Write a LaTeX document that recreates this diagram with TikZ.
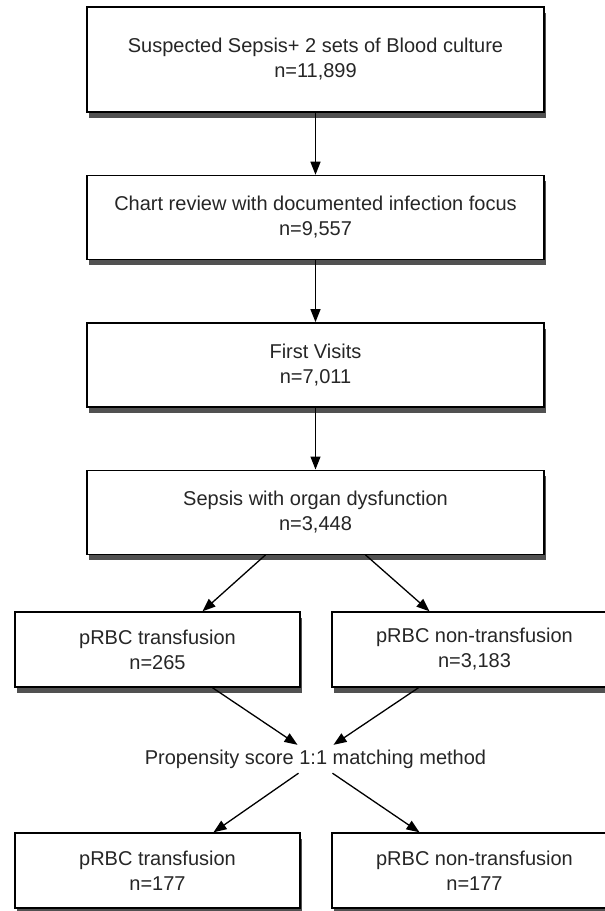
\documentclass[tikz,border=0pt]{standalone}
\usepackage{fontspec}
\setmainfont{Liberation Sans}
\usetikzlibrary{arrows.meta, positioning, shadows}

\begin{document}
\begin{tikzpicture}[
            x=1pt, y=1pt,
            node distance=62pt,
            bigbox/.style  ={rectangle, draw=black, line width=1.4pt, fill=white,
                             minimum width=457pt, minimum height=84pt, align=center,
                             text=black!85, font=\fontsize{20}{25}\selectfont,
                             drop shadow={shadow xshift=2pt, shadow yshift=-6pt,
                                          fill=black!80, opacity=0.85}},
            halfbox/.style ={bigbox, minimum width=285pt, minimum height=75pt},
            plain/.style   ={inner sep=0pt, minimum height=28pt, text=black!85,
                             font=\fontsize{20}{25}\selectfont},
            arrow/.style   ={-{Triangle[length=13pt, width=10pt]}, line width=1.3pt}
        ]
        \useasboundingbox (0,0) rectangle (605,-911);

        \node[bigbox, minimum height=105pt] (suspect) at (315.5,-59.5)
            {Suspected Sepsis+ 2 sets of Blood culture\\n=11,899};
        \node[bigbox, below=of suspect] (chart)  {Chart review with documented infection focus\\n=9,557};
        \node[bigbox, below=of chart]   (first)  {First Visits\\n=7,011};
        \node[bigbox, below=of first]   (sepsis) {Sepsis with organ dysfunction\\n=3,448};

        \node[halfbox] (transA)    at (157.5,-649.5) {pRBC transfusion\\n=265};
        \node[halfbox] (nontransA) at (474.5,-649.5) {pRBC non-transfusion\\n=3,183};
        \node[plain]   (match)     at (315.5,-759)   {Propensity score 1:1 matching method};
        \node[halfbox] (transB)    at (157.5,-870.5) {pRBC transfusion\\n=177};
        \node[halfbox] (nontransB) at (474.5,-870.5) {pRBC non-transfusion\\n=177};

        \draw[arrow] (suspect) -- (chart);
        \draw[arrow] (chart)   -- (first);
        \draw[arrow] (first)   -- (sepsis);
        \draw[arrow] ([xshift=-50pt]sepsis.south)    -- ([xshift=45pt]transA.north);
        \draw[arrow] ([xshift=50pt]sepsis.south)     -- ([xshift=-45pt]nontransA.north);
        \draw[arrow] ([xshift=55pt]transA.south)     -- ([xshift=-18pt]match.north);
        \draw[arrow] ([xshift=-56pt]nontransA.south) -- ([xshift=18pt]match.north);
        \draw[arrow] ([xshift=-17pt]match.south)     -- ([xshift=56pt]transB.north);
        \draw[arrow] ([xshift=17pt]match.south)      -- ([xshift=-55pt]nontransB.north);
        \end{tikzpicture}
\end{document}
